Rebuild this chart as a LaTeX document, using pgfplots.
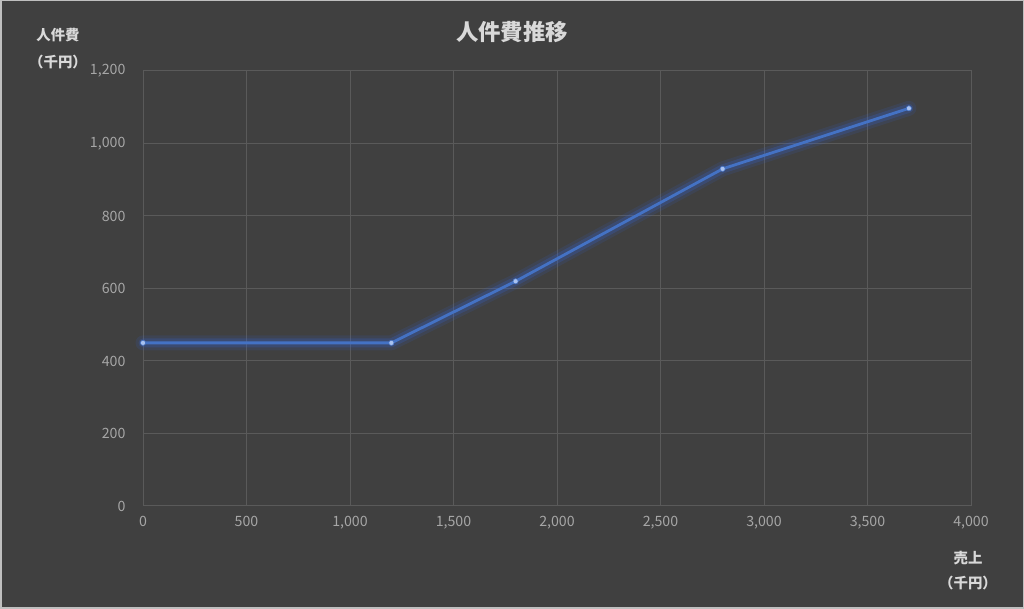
\documentclass[border=0pt]{standalone}
\usepackage{fontspec}
\setmainfont{Noto Sans CJK JP}
\usepackage{pgfplots}
\pgfplotsset{compat=1.18}
\definecolor{bgcol}{HTML}{404040}
\definecolor{bordercol}{HTML}{BFBFBF}
\definecolor{gridcol}{HTML}{5A5A5A}
\definecolor{tickcol}{HTML}{A6A6A6}
\definecolor{titlecol}{HTML}{D9D9D9}
\definecolor{linecol}{HTML}{4472C4}
\definecolor{glowcol}{HTML}{3366E0}
\definecolor{markcol}{HTML}{A9C2F0}
\begin{document}
\begin{tikzpicture}[x=1pt,y=1pt]
\fill[bgcol] (0,0) rectangle (1024,609);
\draw[bordercol, line width=1.5pt] (0.75,0.75) rectangle (1023.25,608.25);
\begin{axis}[
  at={(143pt,103pt)}, anchor=south west,
  scale only axis, width=828pt, height=435pt,
  xmin=0, xmax=4000, ymin=0, ymax=1200,
  xtick={0,500,...,4000}, ytick={0,200,...,1200},
  grid=major, grid style={gridcol, line width=1pt},
  axis line style={gridcol, line width=1pt},
  major tick length=0pt,
  tick label style={font=\fontsize{14.2}{16}\selectfont, text=tickcol},
  /pgf/number format/1000 sep={,},
  /pgf/number format/assume math mode=true,
  yticklabel shift=14pt,
  xticklabel shift=7pt,
  clip=false,
]
\addplot[glowcol, line width=15pt, opacity=0.12, line join=round, line cap=round] coordinates {(0,450) (1200,450) (1800,620) (2800,930) (3700,1097)};
\addplot[glowcol, line width=9pt, opacity=0.22, line join=round, line cap=round] coordinates {(0,450) (1200,450) (1800,620) (2800,930) (3700,1097)};
\addplot[linecol, line width=2.8pt, line join=round, mark=*, mark size=2.6pt, mark options={fill=markcol, draw=linecol, line width=0.6pt}] coordinates {(0,450) (1200,450) (1800,620) (2800,930) (3700,1097)};
\end{axis}
\node[text=titlecol, font=\fontsize{22.4}{26}\selectfont\bfseries] at (512,577) {人件費推移};
\node[text=titlecol, font=\fontsize{14.4}{16}\selectfont\bfseries] at (58,574) {人件費};
\node[text=titlecol, font=\fontsize{14.4}{16}\selectfont\bfseries] at (58,547) {（千円）};
\node[text=titlecol, font=\fontsize{14.4}{16}\selectfont\bfseries] at (968,51) {売上};
\node[text=titlecol, font=\fontsize{14.4}{16}\selectfont\bfseries] at (968,26) {（千円）};
\end{tikzpicture}
\end{document}
